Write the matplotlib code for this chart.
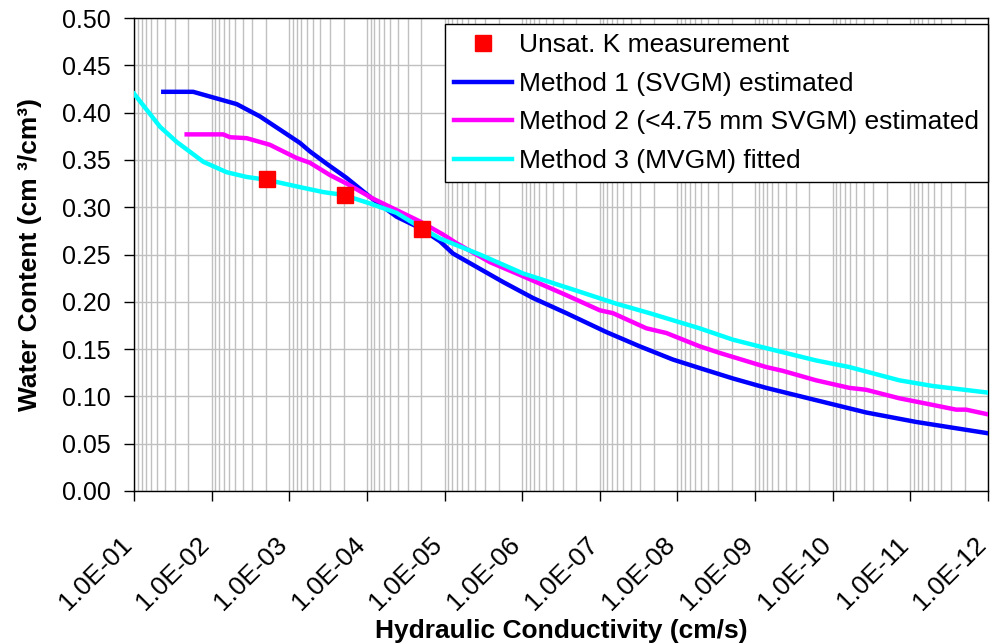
import numpy as np
import matplotlib
matplotlib.use("Agg")
import matplotlib.pyplot as plt
import matplotlib.transforms as mtransforms
from matplotlib.ticker import FixedLocator, FuncFormatter, LogLocator, NullFormatter

plt.rcParams['font.family'] = ['Liberation Sans', 'DejaVu Sans']

# --- data ---
meas_k = [1.94e-3, 1.89e-4, 1.98e-5]
meas_theta = [0.330, 0.313, 0.277]

m1_k = [4.20e-2, 1.73e-2, 7.82e-3, 4.76e-3, 2.39e-3, 1.32e-3, 7.31e-4, 5.43e-4,
        3.31e-4, 1.83e-4, 9.18e-5, 4.16e-5, 2.08e-5, 1.15e-5, 7.78e-6, 4.30e-6,
        1.77e-6, 7.26e-7, 2.70e-7, 8.24e-8, 3.75e-8, 3.08e-8, 1.15e-8, 5.20e-9,
        1.94e-9, 7.19e-10, 1.64e-10, 3.72e-11, 8.45e-12, 1.0e-12]
m1_theta = [0.422, 0.422, 0.414, 0.409, 0.396, 0.382, 0.368, 0.359,
            0.346, 0.331, 0.311, 0.290, 0.278, 0.264, 0.251, 0.239,
            0.221, 0.204, 0.188, 0.168, 0.156, 0.153, 0.139, 0.130,
            0.119, 0.109, 0.096, 0.083, 0.073, 0.061]

m2_k = [2.10e-2, 7.10e-3, 5.81e-3, 3.55e-3, 1.78e-3, 8.05e-4, 5.43e-4, 3.00e-4,
        1.83e-4, 8.32e-5, 4.16e-5, 2.08e-5, 1.04e-5, 7.03e-6, 2.62e-6, 9.77e-7,
        2.70e-7, 1.00e-7, 6.79e-8, 2.52e-8, 1.39e-8, 5.20e-9, 2.87e-9, 7.19e-10,
        4.40e-10, 1.64e-10, 6.10e-11, 3.72e-11, 1.39e-11, 5.16e-12, 2.58e-12,
        1.92e-12, 1.0e-12]
m2_theta = [0.377, 0.377, 0.374, 0.373, 0.366, 0.352, 0.347, 0.334,
            0.325, 0.309, 0.297, 0.285, 0.271, 0.262, 0.242, 0.227,
            0.207, 0.191, 0.188, 0.172, 0.167, 0.153, 0.146, 0.131,
            0.127, 0.117, 0.109, 0.107, 0.098, 0.091, 0.086,
            0.086, 0.081]

m3_k = [1.0e-1, 6.87e-2, 4.62e-2, 2.82e-2, 1.28e-2, 6.41e-3, 3.55e-3, 1.96e-3,
        8.05e-4, 3.66e-4, 2.02e-4, 9.18e-5, 4.16e-5, 2.08e-5, 1.15e-5, 3.52e-6,
        9.77e-7, 2.22e-7, 6.14e-8, 2.29e-8, 5.20e-9, 1.94e-9, 7.19e-10, 1.64e-10,
        6.10e-11, 1.39e-11, 5.16e-12, 1.0e-12]
m3_theta = [0.420, 0.403, 0.385, 0.369, 0.348, 0.337, 0.332, 0.329,
            0.322, 0.316, 0.313, 0.304, 0.294, 0.279, 0.267, 0.250,
            0.230, 0.213, 0.198, 0.188, 0.172, 0.160, 0.151, 0.138,
            0.131, 0.117, 0.111, 0.104]

x_ticks = [10.0 ** -n for n in range(1, 13)]

# --- plot ---
fig = plt.figure(figsize=(9.9, 6.44), dpi=100)
ax = fig.add_axes([0.1354, 0.2376, 0.8626, 0.7344])

ax.plot(m1_k, m1_theta, color='#0000FF', lw=3.2, label='Method 1 (SVGM) estimated', zorder=3)
ax.plot(m2_k, m2_theta, color='#FF00FF', lw=3.2, label='Method 2 (<4.75 mm SVGM) estimated', zorder=3)
ax.plot(m3_k, m3_theta, color='#00FFFF', lw=3.2, label='Method 3 (MVGM) fitted', zorder=3)
ax.plot(meas_k, meas_theta, 's', color='#FF0000', ms=11, ls='none',
        label='Unsat. K measurement', zorder=4)

ax.set_xscale('log')
ax.set_xlim(1e-1, 1e-12)
ax.set_ylim(0, 0.5)

ax.xaxis.set_major_locator(FixedLocator(x_ticks))
ax.xaxis.set_major_formatter(FuncFormatter(lambda v, p: f"{v:.1E}"))
ax.xaxis.set_minor_locator(LogLocator(base=10, subs=np.arange(2, 10), numticks=100))
ax.xaxis.set_minor_formatter(NullFormatter())
ax.set_yticks(np.arange(0, 0.501, 0.05))
ax.yaxis.set_major_formatter(FuncFormatter(lambda v, p: f"{v:.2f}"))

ax.grid(True, which='major', color='#c0c0c0', lw=1)
ax.grid(True, which='minor', axis='x', color='#c0c0c0', lw=1)
ax.set_axisbelow(True)

ax.tick_params(axis='both', which='major', direction='out', length=7, width=1, color='black')
ax.tick_params(axis='y', labelsize=18, pad=10)
ax.tick_params(axis='x', which='minor', length=0)
ax.tick_params(axis='x', which='major', labelsize=19, pad=29)
# nudge rotated labels left so the last one stays inside the figure
shift = mtransforms.ScaledTranslation(-6 / 100, 0, fig.dpi_scale_trans)
for lab in ax.get_xticklabels():
    lab.set_rotation(45)
    lab.set_ha('right')
    lab.set_va('center')
    lab.set_rotation_mode('anchor')
    lab.set_transform(lab.get_transform() + shift)

for s in ax.spines.values():
    s.set_color('black')
    s.set_linewidth(1)

ax.set_xlabel('Hydraulic Conductivity (cm/s)', fontsize=19, fontweight='bold', labelpad=3)
ax.set_ylabel('Water Content (cm \u00b3/cm\u00b3)', fontsize=19, fontweight='bold', labelpad=14)

handles, labels = ax.get_legend_handles_labels()
order = [3, 0, 1, 2]
leg = ax.legend([handles[i] for i in order], [labels[i] for i in order],
                loc='upper right', bbox_to_anchor=(1.0, 0.987), borderaxespad=0,
                fontsize=19, frameon=True, fancybox=False, framealpha=1,
                edgecolor='black', handlelength=2.2, handletextpad=0.25,
                labelspacing=0.55, borderpad=0.35, numpoints=1)
leg.get_frame().set_linewidth(1)

fig.savefig('out.png', dpi=100)
